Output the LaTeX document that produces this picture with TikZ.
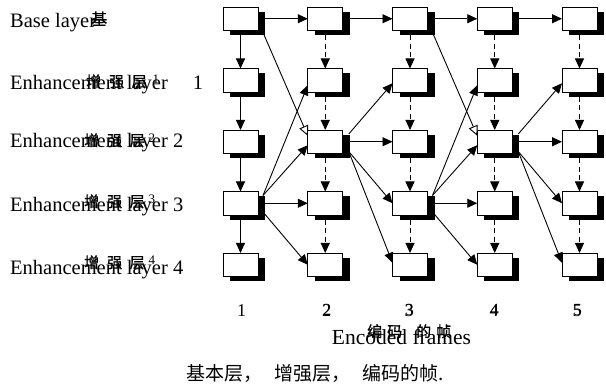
\documentclass[tikz,border=0pt]{standalone}
\usepackage{fontspec}
\setmainfont{Liberation Serif}
\newfontfamily\cjk{Noto Sans CJK SC}
\newfontfamily\cjkheavy[FakeBold=1.2]{Noto Sans CJK SC}
\usetikzlibrary{arrows.meta,calc}
\tikzset{
  frame/.style={draw=black, line width=0.8pt, fill=white, minimum width=35pt,
    minimum height=23.5pt, inner sep=0pt, outer sep=0pt, anchor=north west},
  link/.style={line width=0.9pt, -{Triangle[length=10pt,width=9pt]}},
  dlink/.style={link, dash pattern=on 5pt off 3.5pt},
  openlink/.style={line width=0.9pt, -{Triangle[length=10pt,width=9.5pt,fill=white]}},
  lbl/.style={inner sep=0pt, anchor=base west, font=\fontsize{20.5}{24}\selectfont},
  cjklbl/.style={inner sep=0pt, anchor=base west, font=\cjkheavy\fontsize{15}{17}\selectfont},
  num/.style={inner sep=0pt, anchor=base, font=\fontsize{18}{20}\selectfont},
  ghostnum/.style={inner sep=0pt, anchor=base, font=\fontsize{17}{18}\selectfont},
}
% small layer index set after the Chinese layer name
\newcommand\lyrnum[1]{\raisebox{3.5pt}{\rmfamily\fontsize{13}{13}\selectfont #1}}
\begin{document}
\begin{tikzpicture}[x=1pt,y=-1pt]
\useasboundingbox (0,0) rectangle (606,387);

% frame boxes with drop shadows: column c (1..5), layer r (0..4)
\foreach \c in {1,...,5}{
  \foreach \r in {0,...,4}{
    \pgfmathsetmacro\xl{223+84.75*(\c-1)}
    \pgfmathsetmacro\yt{7+61.5*\r}
    \fill[black] ({\xl+7},{\yt+5}) rectangle ++(35,23.5);
    \node[frame] (b\c\r) at (\xl,\yt) {};
  }
}

% base layer: temporal prediction
\foreach \c/\d in {1/2,2/3,3/4,4/5}
  \draw[link] ($(b\c0.east)+(7,0)$) -- (b\d0.west);

% first frame: solid inter-layer arrows
\foreach \r/\s in {0/1,1/2,2/3,3/4}
  \draw[link] ($(b1\r.south)+(0,5)$) -- (b1\s.north);

% other frames: dashed inter-layer arrows
\foreach \c in {2,...,5}{
  \foreach \r/\s in {0/1,1/2,2/3,3/4}
    \draw[dlink] ($(b\c\r.south)+(0,5)$) -- (b\c\s.north);
}

% fans leaving layer 3
\foreach \c/\d in {1/2,3/4}{
  \draw[link] ($(b\c3.north east)+(5,4)$) -- ($(b\d1.west)+(0,5)$);
  \draw[link] ($(b\c3.north east)+(5,4)$) -- ($(b\d2.west)+(0,3.5)$);
  \draw[link] ($(b\c3.east)+(7,0)$) -- (b\d3.west);
  \draw[link] ($(b\c3.south east)+(5,-3)$) -- (b\d4.west);
}

% fans leaving layer 2
\foreach \c/\d in {2/3,4/5}{
  \draw[link] ($(b\c2.north east)+(6,4)$) -- ($(b\d1.west)+(0,3)$);
  \draw[link] ($(b\c2.east)+(7,0)$) -- (b\d2.west);
  \draw[link] ($(b\c2.south east)+(6,-2)$) -- (b\d3.west);
  \draw[link] ($(b\c2.south east)+(6,-2)$) -- ($(b\d4.west)+(0,-2)$);
}

% base layer to layer 2, open heads
\foreach \c/\d in {1/2,3/4}
  \draw[openlink] ($(b\c0.south east)+(5,2)$) -- ($(b\d2.west)+(0,-6)$);

% layer labels
\node[lbl] (l0) at (10,28) {Base layer};
\node[cjklbl, font=\cjkheavy\fontsize{16}{18}\selectfont] (l0cn) at (91,25) {基};
\node[lbl] (l1) at (10,90) {Enhancement layer\hspace{25pt}1};
\node[cjklbl] (l1cn) at (86,87) {增\hspace{8pt}强\hspace{7.5pt}层\hspace{6pt}\lyrnum{1}};
\node[lbl] (l2) at (10,148) {Enhancement layer 2};
\node[cjklbl] (l2cn) at (84,146) {增\hspace{8pt}强\hspace{7.5pt}层\hspace{4pt}\lyrnum{2}};
\node[lbl] (l3) at (10,212) {Enhancement layer 3};
\node[cjklbl] (l3cn) at (84,207) {增\hspace{8pt}强\hspace{7.5pt}层\hspace{4pt}\lyrnum{3}};
\node[lbl] (l4) at (10,275) {Enhancement layer 4};
\node[cjklbl] (l4cn) at (84,268) {增\hspace{8pt}强\hspace{7.5pt}层\hspace{4pt}\lyrnum{4}};

% frame numbers
\foreach \k/\x in {1/241.5,2/326.5,3/409,4/494,5/577}
  \node[num] (f\k) at (\x,317) {\k};
\foreach \k/\x in {2/326.5,3/409,4/494,5/577}
  \node[ghostnum] (g\k) at ({\x+0.5},316) {\k};

\node[inner sep=0pt, anchor=base, font=\fontsize{21.5}{26}\selectfont] (enc) at (401.5,345) {Encoded frames};
\node[cjklbl] (enccn) at (367,337) {编\hspace{5pt}码\hspace{14pt}的\hspace{5pt}帧};

% caption
\node[inner sep=0pt, anchor=base west, font=\cjk\fontsize{19}{21}\selectfont] (cap) at (186,381)
  {基本层，\hspace{12pt}增强层，\hspace{12pt}编码的帧.};
\end{tikzpicture}
\end{document}
